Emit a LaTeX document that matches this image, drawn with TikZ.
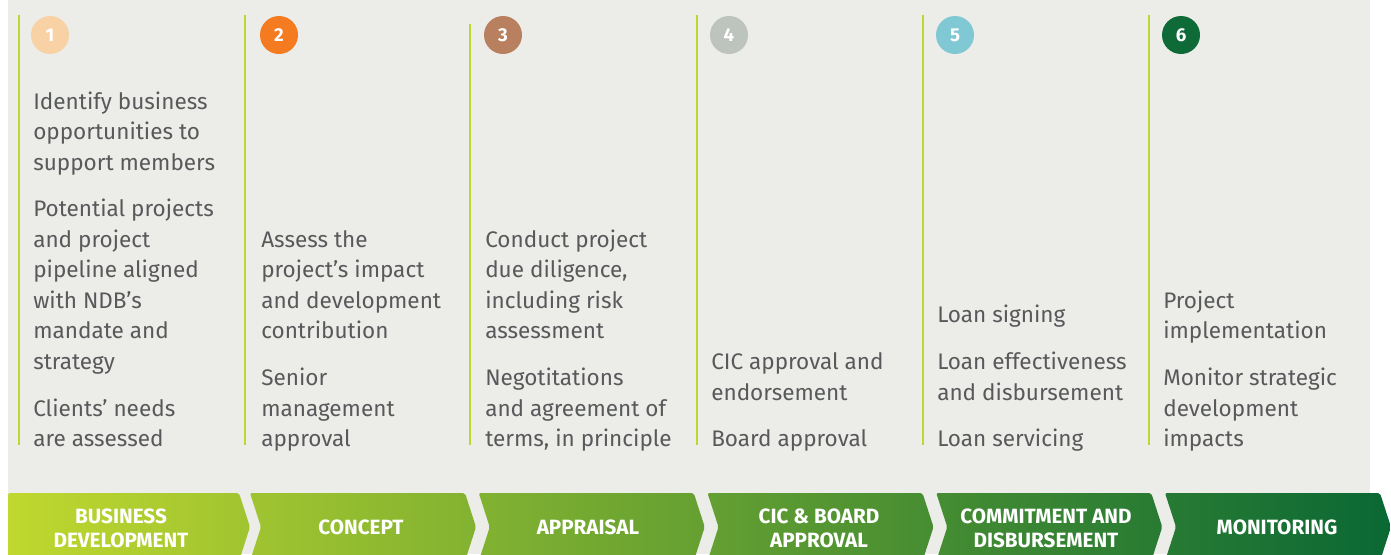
\documentclass[tikz,border=0pt]{standalone}
\usepackage{fontspec}
\setmainfont{Fira Sans}
\usetikzlibrary{positioning, calc}

\definecolor{panelGray}{HTML}{ECECE8}
\definecolor{limeLine}{HTML}{BED630}
\definecolor{bodyText}{HTML}{58595B}
\definecolor{stepA}{HTML}{F8D1A4}
\definecolor{stepB}{HTML}{F47B20}
\definecolor{stepC}{HTML}{B9805F}
\definecolor{stepD}{HTML}{BCC4BD}
\definecolor{stepE}{HTML}{80C9D4}
\definecolor{stepF}{HTML}{0E6A36}
\definecolor{chevLeft}{HTML}{C0D82F}
\definecolor{chevRight}{HTML}{0A6834}

\begin{document}
\begin{tikzpicture}[x=0.75pt, y=-0.75pt,
    every node/.style={inner sep=0pt},
    stepDot/.style={circle, minimum size=28.5pt, text=white, font=\fontsize{14}{14}\selectfont\bfseries},
    stepText/.style={anchor=south west, align=left, text=bodyText, font=\fontsize{16.9}{22.9}\selectfont},
    stageLabel/.style={align=center, text=white, font=\fontsize{15.5}{18}\selectfont\bfseries},
    divider/.style={limeLine, line width=1.5pt}
  ]
  \useasboundingbox (0,0) rectangle (1391,554);
  \clip (0,0) rectangle (1391,554);

  % panel
  \fill[panelGray] (8,0) rectangle (1370,554);

  % column rules and numbered dots
  \foreach \x in {19, 245, 697, 923, 1149}
    \draw[divider] (\x,15) -- (\x,445);
  \draw[divider] (470,24) -- (470,445);
  \foreach \x/\c/\i in {50/stepA/1, 279/stepB/2, 503/stepC/3, 729/stepD/4, 955/stepE/5, 1181/stepF/6}
    \node[stepDot, fill=\c] (n\i) at (\x,35) {\i};

  % column texts
  \node[stepText] (t1) at (33,456) {Identify business\\opportunities to\\support members\\[12pt]
    Potential projects\\and project\\pipeline aligned\\with NDB’s\\mandate and\\strategy\\[12pt]
    Clients’ needs\\are assessed\strut};
  \node[stepText] (t2) at (261,456) {Assess the\\project’s impact\\and development\\contribution\\[12pt]
    Senior\\management\\approval\strut};
  \node[stepText] (t3) at (485,456) {Conduct project\\due diligence,\\including risk\\assessment\\[12pt]
    Negotitations\\and agreement of\\terms, in principle\strut};
  \node[stepText] (t4) at (711,456) {CIC approval and\\endorsement\\[12pt]
    Board approval\strut};
  \node[stepText] (t5) at (937,456) {Loan signing\\[12pt]
    Loan effectiveness\\and disbursement\\[12pt]
    Loan servicing\strut};
  \node[stepText] (t6) at (1163,456) {Project\\implementation\\[12pt]
    Monitor strategic\\development\\impacts\strut};

  % chevron band
  \shade[left color=chevLeft, right color=chevRight, rounded corners=1.5pt]
    (8,493) -- (239,493) -- (250,527) -- (239,561) -- (8,561) -- cycle
    \foreach \k [evaluate=\k as \lx using 250+228.75*\k] in {0,...,4} {
      (\lx,493) -- ++(215,0) -- ++(11,34) -- ++(-11,34) -- ++(-215,0) -- ++(11,-34) -- cycle
    };
  \node[stageLabel] (bd) at (121,528) {BUSINESS\\DEVELOPMENT};
  \node[stageLabel] (cn) at (361,527) {CONCEPT};
  \node[stageLabel] (ap) at (588,527) {APPRAISAL};
  \node[stageLabel] (cb) at (819,528) {CIC \& BOARD\\APPROVAL};
  \node[stageLabel] (cd) at (1046,528) {COMMITMENT AND\\DISBURSEMENT};
  \node[stageLabel] (mo) at (1277,527) {MONITORING};
\end{tikzpicture}
\end{document}
